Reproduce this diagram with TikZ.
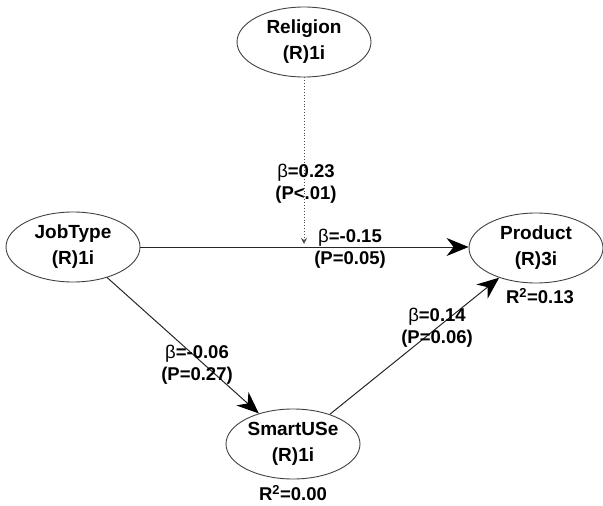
\documentclass[tikz,border=0pt]{standalone}
\usepackage{fontspec}
\setmainfont{Liberation Sans}
\usetikzlibrary{shapes.geometric,arrows.meta}
\tikzset{
  lv/.style={ellipse, draw=black!75, line width=0.9pt, minimum width=134pt, minimum height=70pt, inner sep=0pt, align=center, font=\fontsize{19}{26}\selectfont\bfseries},
  lbl/.style={align=center, inner sep=0pt, font=\fontsize{18.5}{22}\selectfont\bfseries},
  path/.style={draw=black!85, line width=1pt, -{Stealth[length=22pt,width=18pt,inset=7pt,fill=black,color=black]}},
}
\newcommand{\bet}{{\mdseries β}}
\begin{document}
\begin{tikzpicture}[x=1pt,y=-1pt]
\useasboundingbox (0,0) rectangle (603,506);
\node[lv] (rel) at (304,42) {Religion\\(R)1i};
\node[lv] (job) at (73,247) {JobType\\(R)1i};
\node[lv] (prod) at (536,248) {Product\\(R)3i};
\node[lv] (smart) at (293,444) {SmartUSe\\(R)1i};
\coordinate (mod) at (304,244);
\draw[path] (job.east |- 0,247) -- (prod.west |- 0,247);
\draw[path] (job) -- (smart);
\draw[path] (smart) -- (prod);
\draw[draw=black!70, line width=0.9pt, dotted, -{Stealth[length=6pt,width=6pt,open]}] (rel.south) -- (mod);
\node[lbl] (l1) at (306,184) {\bet=0.23\\(P<.01)};
\node[lbl] (l2) at (350,249) {\bet=-0.15\\(P=0.05)};
\node[lbl] (l3) at (197,365) {\bet=-0.06\\(P=0.27)};
\node[lbl] (l4) at (437,328) {\bet=0.14\\(P=0.06)};
\node[lbl] (r1) at (540,296) {R\textsuperscript{2}=0.13};
\node[lbl] (r2) at (293,493) {R\textsuperscript{2}=0.00};
\end{tikzpicture}
\end{document}
